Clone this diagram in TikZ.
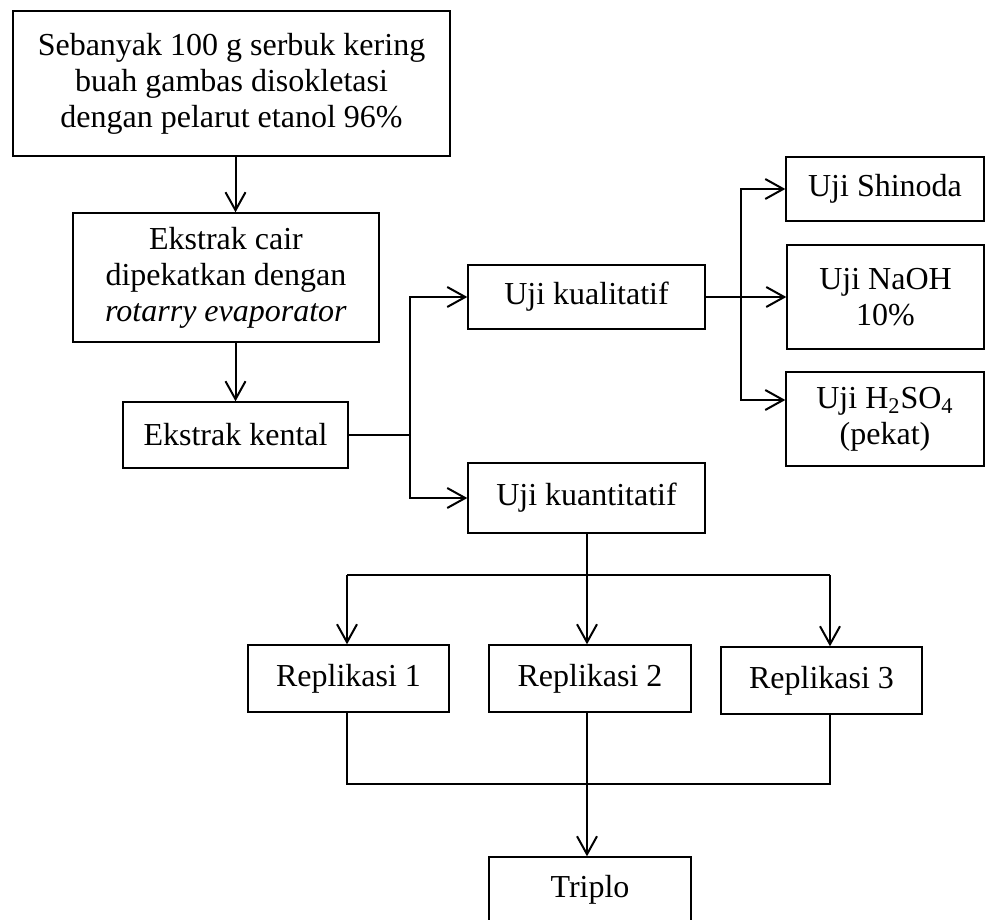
\documentclass[tikz,border=0pt]{standalone}
\usepackage{fontspec}
\setmainfont{Liberation Serif}
\usetikzlibrary{arrows.meta,positioning}
\tikzset{
  box/.style = {draw, rectangle, align=center, inner sep=0pt, line width=0.7pt, font=\fontsize{16}{18}\selectfont},
  line/.style = {draw, line width=1pt, -{Straight Barb[length=9pt,width=10pt]}},
}

\begin{document}
\begin{tikzpicture}[x=0.5pt,y=-0.5pt]
		\useasboundingbox (0,0) rectangle (985,920);
		% boxes
		\node[box, minimum width=218.5pt, minimum height=72.5pt] (sok) at (231.5,83.5) {Sebanyak 100 g serbuk kering\\buah gambas disokletasi\\dengan pelarut etanol 96\%};
		\node[box, minimum width=153pt, minimum height=64.5pt] (cair) at (226,277.5) {Ekstrak cair\\dipekatkan dengan\\\textit{rotarry evaporator}};
		\node[box, minimum width=112.5pt, minimum height=33pt] (kental) at (235.5,435) {Ekstrak kental};
		\node[box, minimum width=118.5pt, minimum height=32pt] (kual) at (586.5,297) {Uji kualitatif};
		\node[box, minimum width=118.5pt, minimum height=35pt] (kuan) at (586.5,498) {Uji kuantitatif};
		\node[box, minimum width=99pt, minimum height=32pt] (shin) at (885,189) {Uji Shinoda};
		\node[box, minimum width=98.5pt, minimum height=52pt] (naoh) at (885.5,297) {Uji NaOH\\10\%};
		\node[box, minimum width=99pt, minimum height=47pt] (h2so) at (885,419) {Uji H\textsubscript{2}SO\textsubscript{4}\\(pekat)};
		\node[box, minimum width=100.5pt, minimum height=33.5pt] (rep1) at (348.5,678.5) {Replikasi 1};
		\node[box, minimum width=101pt, minimum height=33.5pt] (rep2) at (590,678.5) {Replikasi 2};
		\node[box, minimum width=100.5pt, minimum height=33.5pt] (rep3) at (821.5,680.5) {Replikasi 3};
		\node[box, minimum width=101pt, minimum height=32.5pt] (tri) at (590,889.5) {Triplo};
		% branch points
		\coordinate (b1) at (410,435);
		\coordinate (b2) at (741,297);
		\coordinate (c1) at (347,575);
		\coordinate (b3) at (587,575);
		\coordinate (c3) at (830,575);
		\coordinate (d1) at (347,784);
		\coordinate (d2) at (587,784);
		\coordinate (d3) at (830,784);
		% connectors
		\draw[line] (sok.south -| kental) -- (cair.north -| kental);
		\draw[line] (cair.south -| kental) -- (kental.north);
		\draw[line width=1pt] (kental.east) -- (b1);
		\draw[line] (b1) |- (kual.west);
		\draw[line] (b1) |- (kuan.west);
		\draw[line width=1pt] (kual.east) -- (b2);
		\draw[line] (b2) |- (shin.west);
		\draw[line] (b2) -- (naoh.west);
		\draw[line] (b2) |- ([yshift=9.5pt]h2so.west);
		\draw[line width=1pt] (kuan.south) -- (kuan.south |- b3);
		\draw[line width=1pt] (c1) -- (c3);
		\draw[line] (c1) -- (c1 |- rep1.north);
		\draw[line] (b3) -- (b3 |- rep2.north);
		\draw[line] (c3) -- (c3 |- rep3.north);
		\draw[line width=1pt] (c1 |- rep1.south) -- (d1) -- (d3) -- (c3 |- rep3.south);
		\draw[line width=1pt] (b3 |- rep2.south) -- (d2);
		\draw[line] (d2) -- (d2 |- tri.north);
\end{tikzpicture}
\end{document}
